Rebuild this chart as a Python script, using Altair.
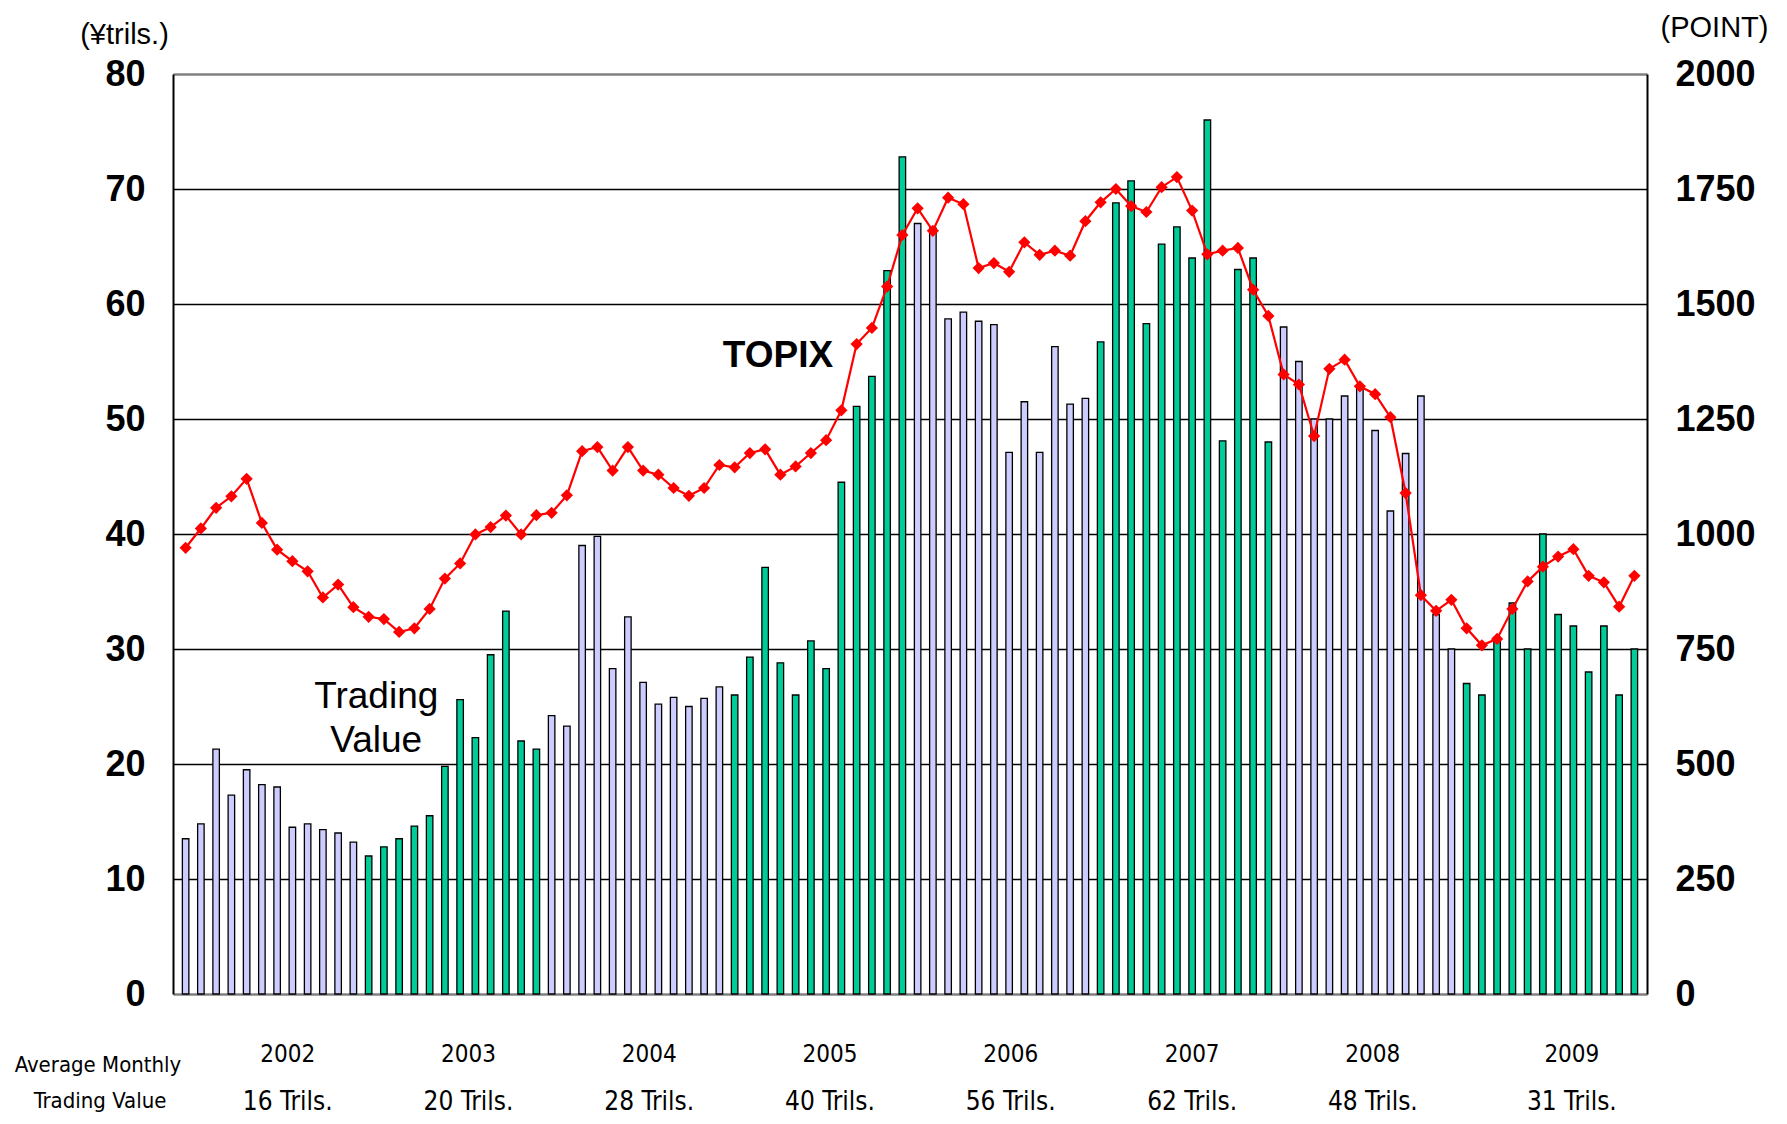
import altair as alt
import pandas as pd

# ---------------- data ----------------
years = [2002, 2003, 2004, 2005, 2006, 2007, 2008, 2009]
avg_trading = ["16 Trils.", "20 Trils.", "28 Trils.", "40 Trils.",
               "56 Trils.", "62 Trils.", "48 Trils.", "31 Trils."]
year_label_idx = [6.7, 18.55, 30.4, 42.25, 54.1, 66.0, 77.85, 90.9]

# monthly trading value (¥ trillions), Jan 2002 .. Dec 2009
trading_value = [
    13.5, 14.8, 21.3, 17.3, 19.5, 18.2, 18.0, 14.5, 14.8, 14.3, 14.0, 13.2,   # 2002
    12.0, 12.8, 13.5, 14.6, 15.5, 19.8, 25.6, 22.3, 29.5, 33.3, 22.0, 21.3,   # 2003
    24.2, 23.3, 39.0, 39.8, 28.3, 32.8, 27.1, 25.2, 25.8, 25.0, 25.7, 26.7,   # 2004
    26.0, 29.3, 37.1, 28.8, 26.0, 30.7, 28.3, 44.5, 51.1, 53.7, 62.9, 72.8,   # 2005
    67.0, 66.6, 58.7, 59.3, 58.5, 58.2, 47.1, 51.5, 47.1, 56.3, 51.3, 51.8,   # 2006
    56.7, 68.8, 70.7, 58.3, 65.2, 66.7, 64.0, 76.0, 48.1, 63.0, 64.0, 48.0,   # 2007
    58.0, 55.0, 50.0, 50.0, 52.0, 52.7, 49.0, 42.0, 47.0, 52.0, 33.0, 30.0,   # 2008
    27.0, 26.0, 31.0, 34.0, 30.0, 40.0, 33.0, 32.0, 28.0, 32.0, 26.0, 30.0,   # 2009
]

# month-end TOPIX (points)
topix = [
    970, 1012, 1057, 1082, 1120, 1024, 966, 941, 919, 862, 890, 841,
    820, 815, 787, 795, 837, 903, 936, 999, 1015, 1040, 999, 1041,
    1046, 1084, 1180, 1189, 1138, 1189, 1138, 1129, 1100, 1083, 1100, 1150,
    1145, 1176, 1184, 1129, 1147, 1176, 1204, 1269, 1413, 1448, 1538, 1650,
    1708, 1659, 1731, 1717, 1578, 1589, 1570, 1634, 1607, 1616, 1605, 1680,
    1721, 1750, 1713, 1700, 1754, 1776, 1703, 1608, 1616, 1622, 1531, 1474,
    1347, 1325, 1213, 1359, 1379, 1321, 1304, 1254, 1089, 867, 833, 857,
    795, 758, 772, 837, 897, 929, 951, 967, 909, 895, 842, 909,
]

months = list(range(len(trading_value)))
df = pd.DataFrame({
    "idx": months,
    "value": trading_value,
    "topix": topix,
    "group": ["b" if (m // 12) % 2 else "a" for m in months],
})

FONT = "Liberation Sans"
NARROW = "DejaVu Sans Condensed"

edge = "datum.value == 0 || datum.value == 80"
left_axis = alt.Axis(
    values=[0, 10, 20, 30, 40, 50, 60, 70, 80],
    grid=True,
    gridColor=alt.condition(edge, alt.value("#808080"), alt.value("#000000")),
    gridWidth=alt.condition(edge, alt.value(2.5), alt.value(1.5)),
    domain=True, domainColor="#000000", domainWidth=2,
    ticks=False,
    labelFont=FONT, labelFontSize=36, labelFontWeight="bold", labelColor="#000000",
    labelPadding=28,
    title="(¥trils.)", titleAngle=0, titleX=-49, titleY=-40,
    titleAlign="center", titleBaseline="middle",
    titleFont=FONT, titleFontSize=29, titleFontWeight="normal", titleColor="#000000",
)
right_axis = alt.Axis(
    orient="right",
    values=[0, 250, 500, 750, 1000, 1250, 1500, 1750, 2000],
    format="d",
    grid=False,
    domain=True, domainColor="#000000", domainWidth=2,
    ticks=False,
    labelFont=FONT, labelFontSize=36, labelFontWeight="bold", labelColor="#000000",
    labelPadding=28,
    title="(POINT)", titleAngle=0, titleX=67, titleY=-47,
    titleAlign="center", titleBaseline="middle",
    titleFont=FONT, titleFontSize=29, titleFontWeight="normal", titleColor="#000000",
)

x_enc = alt.X("idx:Q", scale=alt.Scale(domain=[-0.5, 95.5], nice=False, zero=False), axis=None)
y_left = alt.Y("value:Q", scale=alt.Scale(domain=[0, 80], nice=False), axis=left_axis)

bars = alt.Chart(df).mark_bar(width=6.5, stroke="#000000", strokeWidth=1.3).encode(
    x=x_enc,
    y=y_left,
    color=alt.Color("group:N", scale=alt.Scale(domain=["a", "b"], range=["#CCCCFF", "#00CC99"]), legend=None),
)

# in-plot annotations (data coordinates on the left scale)
topix_lbl = pd.DataFrame({"idx": [38.84], "value": [54.5], "text": ["TOPIX"]})
tv_lbl = pd.DataFrame({"idx": [12.5, 12.5], "value": [24.87, 21.04], "text": ["Trading", "Value"]})

topix_text = alt.Chart(topix_lbl).mark_text(
    font=FONT, fontSize=37, fontWeight="bold", color="#000000", align="center", baseline="alphabetic"
).encode(x=x_enc, y=y_left, text="text:N")
tv_text = alt.Chart(tv_lbl).mark_text(
    font=FONT, fontSize=37, color="#000000", align="center", baseline="alphabetic"
).encode(x=x_enc, y=y_left, text="text:N")

# bottom year / average rows
bottom = pd.DataFrame({"idx": year_label_idx, "year": [str(y) for y in years], "avg": avg_trading})
year_row = alt.Chart(bottom).mark_text(
    font=NARROW, fontSize=24, color="#000000", align="center", baseline="alphabetic"
).encode(x=x_enc, y=alt.value(988), text="year:N")
avg_row = alt.Chart(bottom).mark_text(
    font=NARROW, fontSize=26, color="#000000", align="center", baseline="alphabetic"
).encode(x=x_enc, y=alt.value(1036), text="avg:N")

side = pd.DataFrame({"text": ["Average Monthly"]})
side2 = pd.DataFrame({"text": ["Trading Value"]})
side_a = alt.Chart(side).mark_text(
    font=NARROW, fontSize=22, color="#000000", align="center", baseline="alphabetic"
).encode(x=alt.value(-75), y=alt.value(998), text="text:N")
side_b = alt.Chart(side2).mark_text(
    font=NARROW, fontSize=22, color="#000000", align="center", baseline="alphabetic"
).encode(x=alt.value(-73), y=alt.value(1034), text="text:N")

left_layer = alt.layer(bars, topix_text, tv_text, year_row, avg_row, side_a, side_b)

line = alt.Chart(df).mark_line(
    color="#FF0000", strokeWidth=2.2,
    point=alt.OverlayMarkDef(shape="diamond", size=150, filled=True, color="#FF0000", opacity=1),
).encode(
    x=x_enc,
    y=alt.Y("topix:Q", scale=alt.Scale(domain=[0, 2000], nice=False), axis=right_axis),
)

chart = alt.layer(left_layer, line).resolve_scale(y="independent").properties(
    width=1474,
    height=920,
    autosize=alt.AutoSizeParams(type="none"),
    padding={"left": 165, "top": 66, "right": 132, "bottom": 122},
    background="#FFFFFF",
).configure_view(stroke=None)

chart.save("out.html", embed_options={"renderer": "svg", "actions": False})
